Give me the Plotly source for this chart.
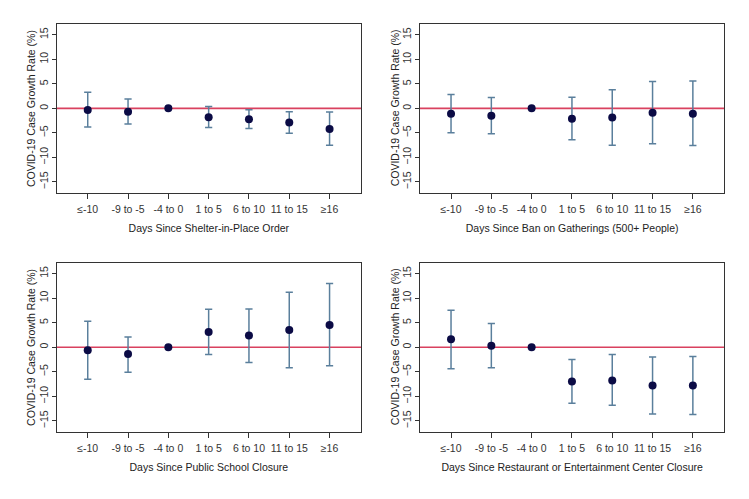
import plotly.graph_objects as go
from plotly.subplots import make_subplots

categories = ["\u2264-10", "-9 to -5", "-4 to 0", "1 to 5", "6 to 10", "11 to 15", "\u226516"]

shelter_est = [-0.35, -0.7, 0.0, -1.8, -2.2, -2.9, -4.2]
shelter_hi = [3.3, 1.9, 0.0, 0.4, -0.3, -0.7, -0.75]
shelter_lo = [-3.8, -3.2, 0.0, -3.9, -4.1, -5.1, -7.5]

gather_est = [-1.1, -1.5, 0.0, -2.1, -1.85, -0.9, -1.1]
gather_hi = [2.8, 2.2, 0.0, 2.25, 3.8, 5.5, 5.6]
gather_lo = [-5.0, -5.2, 0.0, -6.4, -7.5, -7.2, -7.6]

school_est = [-0.6, -1.4, 0.0, 3.1, 2.4, 3.5, 4.5]
school_hi = [5.3, 2.1, 0.0, 7.7, 7.8, 11.2, 12.95]
school_lo = [-6.5, -5.1, 0.0, -1.5, -3.1, -4.2, -3.8]

rest_est = [1.6, 0.3, 0.0, -7.0, -6.8, -7.8, -7.8]
rest_hi = [7.5, 4.8, 0.0, -2.5, -1.5, -2.0, -1.9]
rest_lo = [-4.4, -4.2, 0.0, -11.4, -11.8, -13.6, -13.7]

panels = [
    ("Days Since Shelter-in-Place Order", shelter_est, shelter_hi, shelter_lo),
    ("Days Since Ban on Gatherings (500+ People)", gather_est, gather_hi, gather_lo),
    ("Days Since Public School Closure", school_est, school_hi, school_lo),
    ("Days Since Restaurant or Entertainment Center Closure", rest_est, rest_hi, rest_lo),
]

y_title = "COVID-19 Case Growth Rate (%)"
y_ticks = [-15, -10, -5, 0, 5, 10, 15]

FONT = "Liberation Sans, Arial, sans-serif"
W, H = 749, 499
OFF = 8  # page body margin offset

def px_x(v):
    return (v - OFF) / W

def px_y(v):
    return 1 - (v - OFF) / H

fig = make_subplots(rows=2, cols=2)

xdoms = [(px_x(56.7), px_x(361.0)), (px_x(420.0), px_x(724.3))]
ydoms = [(px_y(192.7), px_y(24.0)), (px_y(431.7), px_y(262.7))]

for i, (title, est, hi, lo) in enumerate(panels):
    r, c = i // 2 + 1, i % 2 + 1
    plus = [h - e for h, e in zip(hi, est)]
    minus = [e - l for e, l in zip(est, lo)]
    fig.add_trace(
        go.Scatter(
            x=categories, y=est, mode="markers",
            marker=dict(color="#0b0b45", size=8),
            error_y=dict(type="data", array=plus, arrayminus=minus,
                         color="#5a7f9c", thickness=1.5, width=3.6),
            showlegend=False,
        ),
        row=r, col=c,
    )
    fig.add_hline(y=0, line=dict(color="#d9415f", width=1.6), layer="below", row=r, col=c)
    fig.update_xaxes(
        domain=xdoms[c - 1], range=[-0.77, 6.78], automargin=False,
        showline=True, linecolor="#333333", linewidth=1, mirror=True,
        ticks="outside", ticklen=5, tickcolor="#333333", ticklabelstandoff=2,
        showgrid=False, zeroline=False,
        tickfont=dict(family=FONT, size=10.5, color="#333333"),
        title=dict(text=title, font=dict(family=FONT, size=10.5, color="#222222"), standoff=10),
        row=r, col=c,
    )
    fig.update_yaxes(
        domain=ydoms[r - 1], range=[-17.2, 17.2], automargin=False,
        tickvals=y_ticks, tickangle=-90,
        showline=True, linecolor="#333333", linewidth=1, mirror=True,
        ticks="outside", ticklen=4, tickcolor="#333333",
        showgrid=False, zeroline=False,
        tickfont=dict(family=FONT, size=10.5, color="#333333"),
        row=r, col=c,
    )
    xref = "x" if i == 0 else f"x{i + 1}"
    yref = "y" if i == 0 else f"y{i + 1}"
    fig.add_annotation(
        text=y_title, textangle=-90, showarrow=False,
        xref=f"{xref} domain", yref=f"{yref} domain", x=0, y=0.5,
        xanchor="center", yanchor="middle", xshift=-25,
        font=dict(family=FONT, size=10.5, color="#222222"),
    )

fig.update_layout(
    width=W, height=H,
    margin=dict(l=0, r=0, t=0, b=0),
    plot_bgcolor="white", paper_bgcolor="white",
    font=dict(family=FONT),
)

fig.write_html("out.html")
